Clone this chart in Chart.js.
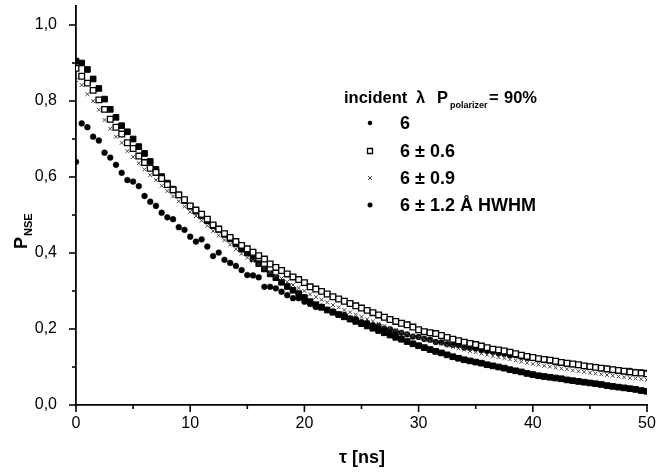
<!DOCTYPE html>
<html><head><meta charset="utf-8">
<script src="https://cdn.jsdelivr.net/npm/chart.js@4.4.1/dist/chart.umd.min.js"></script>
<style>html,body{margin:0;padding:0;background:#fff;}#wrap{width:656px;height:473px;}</style>
</head><body><div id="wrap"><canvas id="c" width="656" height="473"></canvas></div>
<script>
const tau = [0,0.5,1,1.5,2,2.5,3,3.5,4,4.5,5,5.5,6,6.5,7,7.5,8,8.5,9,9.5,
10,10.5,11,11.5,12,12.5,13,13.5,14,14.5,15,15.5,16,16.5,17,17.5,18,18.5,19,19.5,
20,20.5,21,21.5,22,22.5,23,23.5,24,24.5,25,25.5,26,26.5,27,27.5,28,28.5,29,29.5,
30,30.5,31,31.5,32,32.5,33,33.5,34,34.5,35,35.5,36,36.5,37,37.5,38,38.5,39,39.5,
40,40.5,41,41.5,42,42.5,43,43.5,44,44.5,45,45.5,46,46.5,47,47.5,48,48.5,49,49.5,50];

const pMono = [0.905,0.900,0.883,0.858,0.833,0.805,0.778,0.757,0.735,0.719,
0.700,0.680,0.662,0.641,0.620,0.601,0.584,0.568,0.553,0.538,
0.523,0.510,0.498,0.485,0.472,0.462,0.449,0.437,0.424,0.410,
0.400,0.385,0.372,0.358,0.345,0.335,0.323,0.312,0.302,0.293,
0.283,0.272,0.264,0.257,0.250,0.244,0.238,0.232,0.226,0.220,
0.214,0.208,0.202,0.196,0.190,0.184,0.178,0.173,0.167,0.161,
0.156,0.151,0.146,0.141,0.137,0.132,0.127,0.123,0.119,0.116,
0.113,0.110,0.106,0.103,0.100,0.097,0.093,0.090,0.087,0.083,
0.080,0.077,0.075,0.073,0.071,0.069,0.066,0.064,0.062,0.060,
0.058,0.056,0.054,0.051,0.049,0.047,0.045,0.043,0.041,0.038,
0.036];

const pW06 = [0.886,0.865,0.847,0.828,0.803,0.778,0.752,0.731,0.713,0.690,
0.675,0.655,0.638,0.623,0.612,0.596,0.580,0.566,0.553,0.540,
0.524,0.513,0.502,0.489,0.474,0.463,0.451,0.441,0.430,0.420,
0.411,0.402,0.393,0.384,0.371,0.362,0.354,0.345,0.337,0.330,
0.322,0.311,0.305,0.299,0.292,0.285,0.279,0.273,0.267,0.261,
0.255,0.249,0.243,0.237,0.231,0.225,0.220,0.215,0.211,0.205,
0.198,0.193,0.190,0.188,0.183,0.178,0.173,0.169,0.165,0.162,
0.159,0.155,0.151,0.147,0.145,0.142,0.139,0.135,0.131,0.128,
0.125,0.122,0.120,0.118,0.115,0.112,0.110,0.108,0.106,0.103,
0.101,0.099,0.097,0.095,0.093,0.091,0.089,0.087,0.085,0.084,
0.082];

const pW09 = [0.855,0.842,0.818,0.800,0.777,0.750,0.727,0.706,0.690,0.668,
0.653,0.636,0.620,0.605,0.592,0.577,0.563,0.549,0.536,0.522,
0.508,0.497,0.485,0.472,0.458,0.446,0.434,0.422,0.410,0.398,
0.388,0.379,0.370,0.360,0.350,0.341,0.333,0.324,0.316,0.308,
0.300,0.291,0.284,0.277,0.270,0.263,0.257,0.250,0.244,0.238,
0.232,0.226,0.220,0.214,0.208,0.202,0.197,0.192,0.187,0.182,
0.178,0.173,0.169,0.165,0.161,0.157,0.153,0.149,0.146,0.142,
0.139,0.135,0.132,0.129,0.126,0.123,0.120,0.117,0.114,0.111,
0.108,0.106,0.103,0.101,0.098,0.096,0.094,0.091,0.089,0.087,
0.085,0.083,0.081,0.079,0.077,0.075,0.073,0.071,0.070,0.068,
0.066];

const pW12 = [0.640,0.741,0.731,0.706,0.696,0.664,0.651,0.632,0.611,0.592,
0.588,0.576,0.550,0.535,0.524,0.506,0.494,0.489,0.468,0.461,
0.443,0.430,0.436,0.417,0.392,0.401,0.382,0.374,0.366,0.355,
0.342,0.341,0.336,0.311,0.311,0.307,0.298,0.289,0.281,0.281,
0.272,0.266,0.258,0.259,0.250,0.246,0.238,0.237,0.228,0.226,
0.218,0.216,0.210,0.208,0.201,0.199,0.193,0.190,0.186,0.180,
0.179,0.174,0.172,0.166,0.165,0.160,0.158,0.157,0.151,0.150,
0.149,0.144,0.142,0.140,0.136,0.135,0.131,0.131,0.127,0.124,
0.124,0.120,0.118,0.117,0.112,0.112,0.108,0.107,0.105,0.102,
0.101,0.100,0.096,0.096,0.093,0.092,0.089,0.090,0.087,0.086,
0.085];

const seriesLabels = ['6', '6 \u00b1 0.6', '6 \u00b1 0.9', '6 \u00b1 1.2 \u00c5 HWHM'];
const xTicks = [0, 10, 20, 30, 40, 50];
const xMinorTicks = [5, 15, 25, 35, 45];
const yTicks = [0, 0.2, 0.4, 0.6, 0.8, 1.0];
const yMinorTicks = [0.1, 0.3, 0.5, 0.7, 0.9];
const legendTitleParts = ['incident', '\u03bb', 'P', 'polarizer', '=', '90%'];
const yTitle = ['P', 'NSE'];
const xTitle = '\u03c4 [ns]';

const FONT = "'Liberation Sans', Arial, Helvetica, sans-serif";

function pts(ys) { return tau.map((t, i) => ({ x: t, y: ys[i] })); }

const datasets = [
  { label: seriesLabels[0], data: pts(pMono), pointStyle: 'rect', pointRadius: 4,
    backgroundColor: '#000', borderColor: '#000', borderWidth: 1, order: 2 },
  { label: seriesLabels[1], data: pts(pW06), pointStyle: 'rect', pointRadius: 4,
    backgroundColor: '#fff', borderColor: '#000', borderWidth: 1.3, order: 0 },
  { label: seriesLabels[2], data: pts(pW09), pointStyle: 'crossRot', pointRadius: 2.7,
    backgroundColor: '#555', borderColor: '#444', borderWidth: 1, order: 1 },
  { label: seriesLabels[3], data: pts(pW12), pointStyle: 'circle', pointRadius: 2.9,
    backgroundColor: '#000', borderColor: '#000', borderWidth: 0.5, order: 3 }
];

const decor = {
  id: 'decor',
  afterDraw(chart) {
    const ctx = chart.ctx;
    const xs = chart.scales.x, ys = chart.scales.y;
    const area = chart.chartArea;
    ctx.save();
    ctx.strokeStyle = '#000';
    ctx.lineWidth = 1.6;
    const tick = (v, len, axis) => {
      ctx.beginPath();
      if (axis === 'x') {
        const p = xs.getPixelForValue(v);
        ctx.moveTo(p, area.bottom); ctx.lineTo(p, area.bottom + len);
      } else {
        const p = ys.getPixelForValue(v);
        ctx.moveTo(area.left, p); ctx.lineTo(area.left - len, p);
      }
      ctx.stroke();
    };
    xTicks.forEach(v => tick(v, 7, 'x'));
    xMinorTicks.forEach(v => tick(v, 4, 'x'));
    yTicks.forEach(v => tick(v, 7, 'y'));
    yMinorTicks.forEach(v => tick(v, 4, 'y'));

    ctx.fillStyle = '#000';
    ctx.font = 'bold 18px ' + FONT;
    ctx.textAlign = 'center';
    ctx.textBaseline = 'alphabetic';
    ctx.fillText(xTitle, 362, 463);

    ctx.save();
    ctx.translate(27, 249);
    ctx.rotate(-Math.PI / 2);
    ctx.textAlign = 'left';
    ctx.font = 'bold 18px ' + FONT;
    ctx.fillText(yTitle[0], 0, 0);
    const wP = ctx.measureText(yTitle[0]).width;
    ctx.font = 'bold 11px ' + FONT;
    ctx.fillText(yTitle[1], wP + 1, 5);
    ctx.restore();

    ctx.textAlign = 'left';
    const ly = 103;
    ctx.font = 'bold 16.5px ' + FONT;
    ctx.fillText(legendTitleParts[0], 344, ly);
    ctx.fillText(legendTitleParts[1], 416, ly);
    ctx.fillText(legendTitleParts[2], 437, ly);
    ctx.font = 'bold 9px ' + FONT;
    ctx.fillText(legendTitleParts[3], 450, ly + 5);
    ctx.font = 'bold 16.5px ' + FONT;
    ctx.fillText(legendTitleParts[4], 489, ly);
    ctx.fillText(legendTitleParts[5], 504, ly);

    const rowsY = [123, 151, 178, 205];
    ctx.textBaseline = 'middle';
    chart.data.datasets.forEach((ds, i) => {
      const cx = 370, cy = rowsY[i];
      ctx.save();
      ctx.fillStyle = ds.backgroundColor; ctx.strokeStyle = ds.borderColor; ctx.lineWidth = ds.borderWidth;
      ctx.beginPath();
      if (i === 0) {
        ctx.arc(cx, cy, 2.3, 0, Math.PI * 2); ctx.fill();
      } else if (i === 1) {
        ctx.rect(cx - 2.5, cy - 2.5, 5, 5); ctx.fill(); ctx.stroke();
      } else if (i === 2) {
        ctx.moveTo(cx - 2, cy - 2); ctx.lineTo(cx + 2, cy + 2);
        ctx.moveTo(cx + 2, cy - 2); ctx.lineTo(cx - 2, cy + 2);
        ctx.stroke();
      } else {
        ctx.arc(cx, cy, 2.5, 0, Math.PI * 2); ctx.fill();
      }
      ctx.restore();
      ctx.font = 'bold 18px ' + FONT;
      ctx.fillStyle = '#000';
      ctx.fillText(ds.label, 400, cy + 1);
    });
    ctx.restore();
  }
};

new Chart(document.getElementById('c'), {
  type: 'scatter',
  data: { datasets },
  options: {
    responsive: false, animation: false, devicePixelRatio: 1,
    layout: { padding: { left: 0, top: 6, right: 9, bottom: 0 } },
    plugins: { legend: { display: false }, tooltip: { enabled: false } },
    elements: { point: { hoverRadius: 0 } },
    scales: {
      x: {
        type: 'linear', min: 0, max: 50,
        afterBuildTicks: s => { s.ticks = xTicks.map(v => ({ value: v })); },
        afterFit: s => { s.height = 68; s.paddingLeft = 0; s.paddingRight = 0; },
        ticks: { color: '#000', font: { family: FONT, size: 16 }, padding: 9, maxRotation: 0, autoSkip: false },
        grid: { display: true, drawOnChartArea: false, drawTicks: false },
        border: { display: true, color: '#000', width: 1.8 }
      },
      y: {
        type: 'linear', min: 0, max: 1.05,
        afterBuildTicks: s => { s.ticks = yTicks.map(v => ({ value: v })); },
        afterFit: s => { s.width = 76; s.paddingTop = 0; s.paddingBottom = 0; },
        ticks: { color: '#000', font: { family: FONT, size: 16 }, padding: 19,
          callback: v => v.toFixed(1).replace('.', ',') },
        grid: { display: true, drawOnChartArea: false, drawTicks: false },
        border: { display: true, color: '#000', width: 1.8 }
      }
    }
  },
  plugins: [decor]
});
</script>
</body></html>
